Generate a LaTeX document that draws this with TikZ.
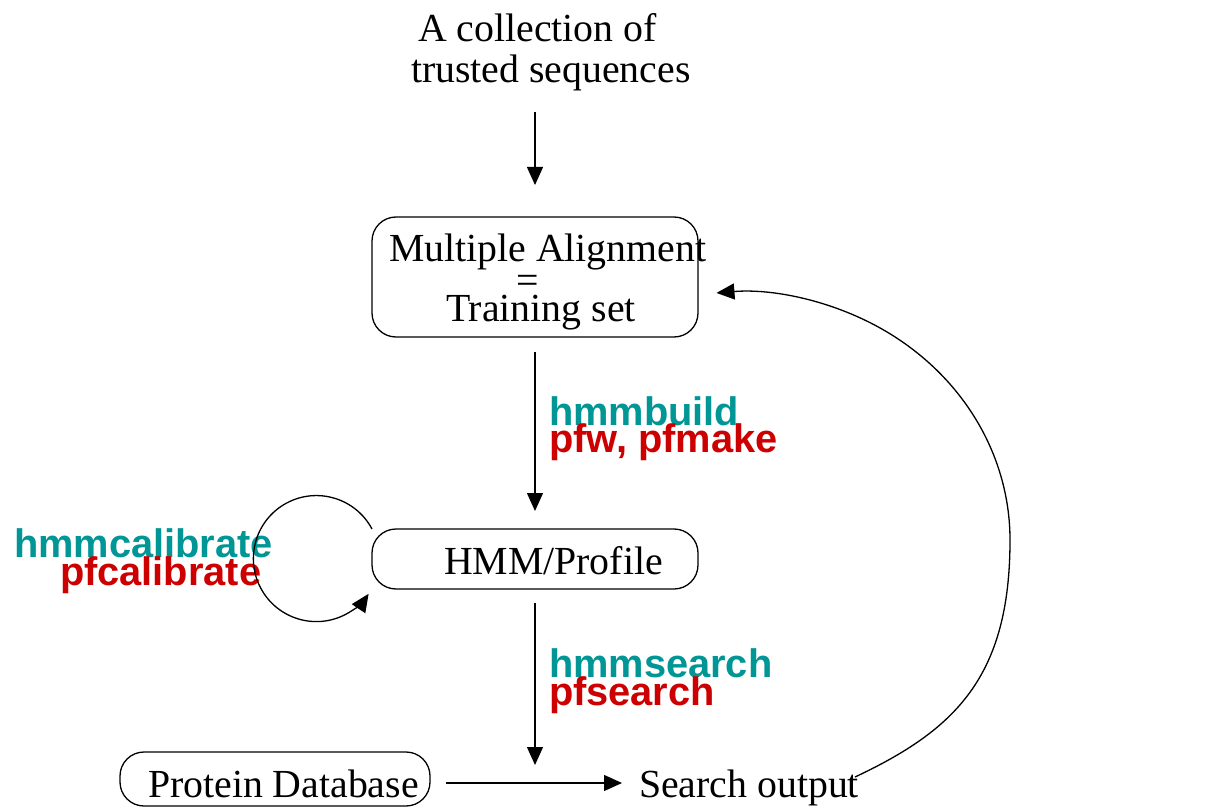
\documentclass[tikz,border=0pt]{standalone}
\usepackage{fontspec}
\setmainfont{Liberation Serif}
\newfontfamily\labelfont{Liberation Sans}
\usetikzlibrary{arrows.meta}
\definecolor{toolteal}{RGB}{0,150,150}
\definecolor{toolred}{RGB}{204,0,0}
\begin{document}
\begin{tikzpicture}[x=1pt,y=1pt,
  every node/.style={inner sep=0pt, outer sep=0pt},
  txt/.style={anchor=base west, font=\fontsize{39.8}{40}\selectfont},
  tool/.style={anchor=base west, font=\labelfont\bfseries\fontsize{39.8}{40}\selectfont},
  hmmer/.style={tool, text=toolteal},
  pfam/.style={tool, text=toolred},
  stage/.style={draw, line width=1.3pt, rounded corners=24pt, minimum width=326pt},
  flow/.style={line width=1.3pt, -{Triangle[length=18pt,width=16pt]}},
]
\useasboundingbox (0,0) rectangle (1212,807);

% boxes
\node[stage, minimum height=120pt] (align) at (535,530) {};
\node[stage, minimum height=60pt] (hmm) at (535,248) {};
\node[stage, minimum width=310pt, minimum height=54pt] (db) at (275,28) {};

% plain texts
\node[txt] (t1) at (418,765) {A collection of};
\node[txt] (t2) at (411,724) {trusted sequences};
\node[txt] (l1) at (389,545) {Multiple Alignment};
\node[txt] (l2) at (516,513) {=};
\node[txt] (l3) at (446,485) {Training set};
\node[txt] (hp) at (444,233) {HMM/Profile};
\node[txt] (pd) at (148,10) {Protein Database};
\node[txt] (so) at (639,10) {Search output};

% program names
\node[hmmer] (build) at (549,382) {hmmbuild};
\node[pfam] (make) at (549,355) {pfw, pfmake};
\node[hmmer] (search) at (549,130) {hmmsearch};
\node[pfam] (pfs) at (549,102) {pfsearch};
\node[hmmer] (calib) at (14,250) {hmmcalibrate};
\node[pfam] (pcalib) at (60,222) {pfcalibrate};

% connectors
\coordinate (meet) at (535,24);
\coordinate (fbs) at (855,30);
\draw[flow, shorten <=21pt, shorten >=32pt] (t2.south -| align.north) -- (align.north);
\draw[flow, shorten <=15pt, shorten >=18pt] (align.south) -- (hmm.north);
\draw[flow, shorten <=14pt, shorten >=18pt] (hmm.south) -- (meet);
\draw[flow, shorten <=16pt, shorten >=17pt] (db.east |- meet) -- (so.west |- meet);
\draw[flow] (hmm.north west) arc[start angle=28, end angle=326, radius=63];
\draw[flow] (fbs) .. controls (955,77) and (1010,130) .. (1010,267)
  arc[start angle=0, end angle=95, x radius=270, y radius=248];
\end{tikzpicture}
\end{document}
